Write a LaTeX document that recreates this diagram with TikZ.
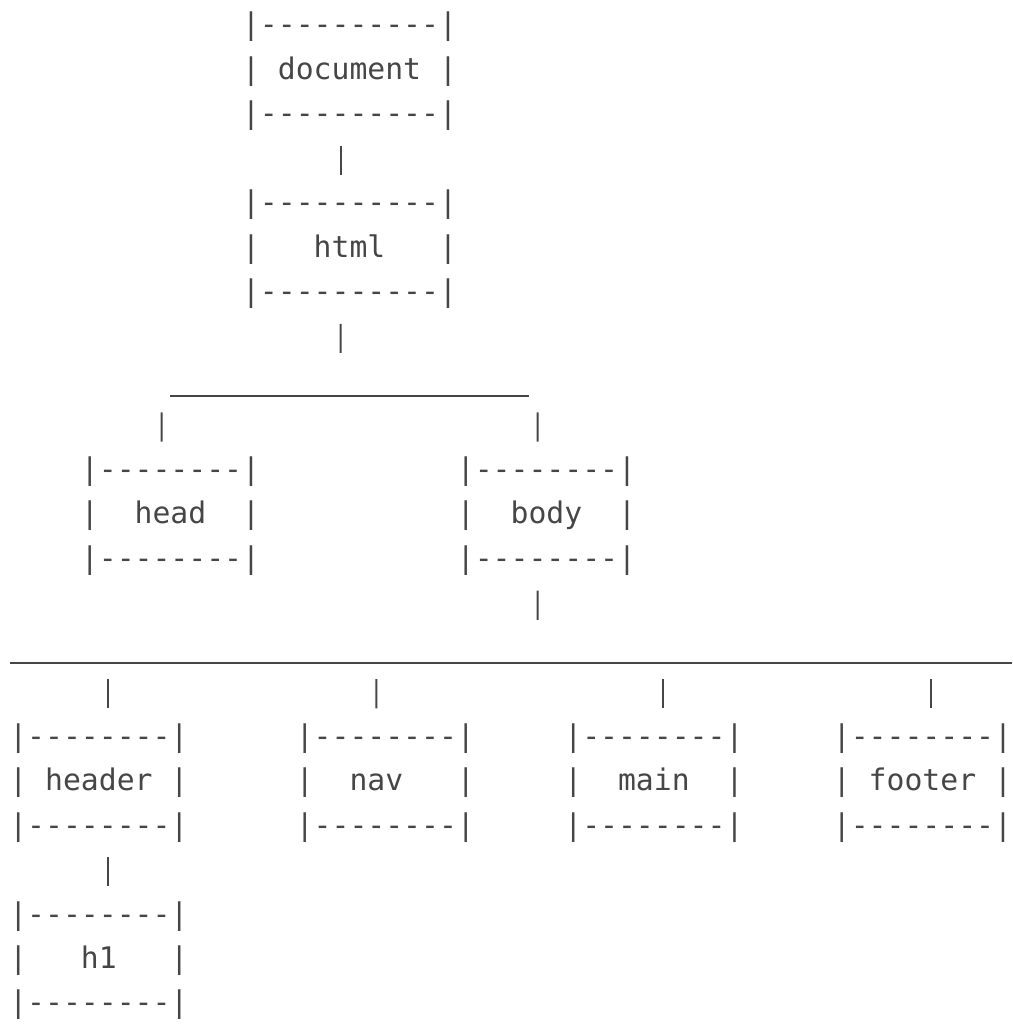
\documentclass[tikz,border=0pt]{standalone}
\usepackage{fontspec}
\setmonofont{DejaVu Sans Mono}
\usepackage{tikz}
\definecolor{ink}{RGB}{70,70,70}
\newcommand{\boxfont}{\ttfamily\fontsize{14.87pt}{22.225pt}\selectfont}
\newcommand{\hc}{4.475pt}
\tikzset{
	tag/.style={font=\boxfont,text=ink,inner sep=0pt,align=left},
	bar/.style={draw=ink,line width=1pt},
	link/.style={bar,shorten <=7.4pt,shorten >=7.4pt},
	uplink/.style={bar,shorten <=7.4pt,shorten >=21.5pt},
	downlink/.style={bar,shorten <=8.15pt,shorten >=7.4pt}
}

\begin{document}
\begin{tikzpicture}[x=8.95pt,y=-22.225pt]
	\useasboundingbox (-1.022,-0.607) rectangle (55.52,22.47);
	% boxes
	\node[tag] (document) at (18.5,1) {|----------|\\|~document~|\\|----------|};
	\node[tag] (html) at (18.5,5) {|----------|\\|~~~html~~~|\\|----------|};
	\node[tag] (head) at (8.5,11) {|--------|\\|~~head~~|\\|--------|};
	\node[tag] (body) at (29.5,11) {|--------|\\|~~body~~|\\|--------|};
	\node[tag] (header) at (4.5,17) {|--------|\\|~header~|\\|--------|};
	\node[tag] (nav) at (20.5,17) {|--------|\\|~~nav~~~|\\|--------|};
	\node[tag] (main) at (35.5,17) {|--------|\\|~~main~~|\\|--------|};
	\node[tag] (footer) at (50.5,17) {|--------|\\|~footer~|\\|--------|};
	\node[tag] (h1) at (4.5,21) {|--------|\\|~~~h1~~~|\\|--------|};
	% forks
	\coordinate (top left) at (8.5,8.3);
	\coordinate (top right) at (28.5,8.3);
	\coordinate (fork html) at (18,8.3);
	\coordinate (fork head) at (8,8.3);
	\coordinate (fork body) at (29,8.3);
	\coordinate (low left) at (-0.46,14.3);
	\coordinate (low right) at (55.52,14.3);
	\coordinate (fork low) at (29,14.3);
	\coordinate (fork header) at (5,14.3);
	\coordinate (fork nav) at (20,14.3);
	\coordinate (fork main) at (36,14.3);
	\coordinate (fork footer) at (51,14.3);
	% connectors
	\draw[link] ([xshift=-\hc]document.south) -- ([xshift=-\hc]html.north);
	\draw[uplink] ([xshift=-\hc]html.south) -- (fork html);
	\draw[bar] (top left) -- (top right);
	\draw[downlink] (fork head) -- ([xshift=-\hc]head.north);
	\draw[downlink] (fork body) -- ([xshift=-\hc]body.north);
	\draw[uplink] ([xshift=-\hc]body.south) -- (fork low);
	\draw[bar] (low left) -- (low right);
	\foreach \n/\s in {header/,nav/-,main/,footer/}
		\draw[downlink] (fork \n) -- ([xshift=\s\hc]\n.north);
	\draw[link] ([xshift=\hc]header.south) -- ([xshift=\hc]h1.north);
\end{tikzpicture}
\end{document}
